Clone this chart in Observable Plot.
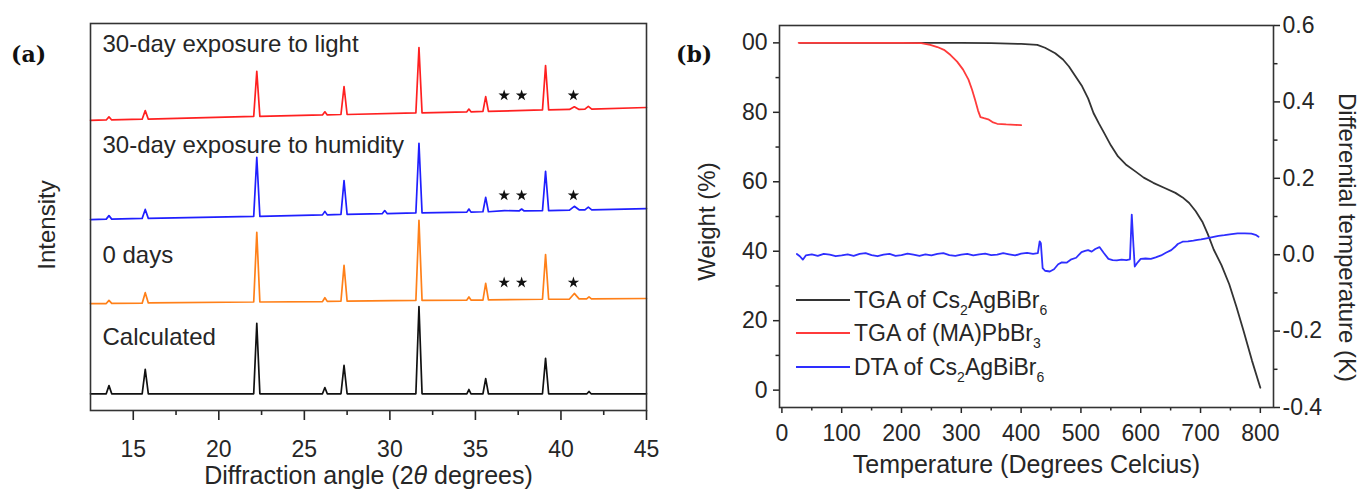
<!DOCTYPE html>
<html><head><meta charset="utf-8">
<script src="https://cdn.jsdelivr.net/npm/d3@7"></script>
<script src="https://cdn.jsdelivr.net/npm/@observablehq/plot@0.6"></script>
<style>
body{margin:0;background:#fff}
#wrap{position:relative;width:1363px;height:496px;overflow:hidden;background:#fff}
#wrap svg{position:absolute;top:0;overflow:visible}
</style>
</head><body><div id="wrap"></div>
<script>
// ---------- Panel (a): XRD patterns (angle, stacked intensity a.u.) ----------
const calcPattern = [[12.5,4.8],[13.42,4.8],[13.58,6.9],[13.74,4.8],[15.52,4.8],[15.7,11.1],[15.88,4.8],[22.04,4.8],[22.22,22.9],[22.4,4.8],[26.06,4.8],[26.2,6.4],[26.34,4.8],[27.14,4.8],[27.32,12.1],[27.5,4.8],[31.52,4.8],[31.7,27.2],[31.88,4.8],[34.5,4.8],[34.62,5.9],[34.74,4.8],[35.44,4.8],[35.6,8.7],[35.76,4.8],[38.92,4.8],[39.1,13.9],[39.28,4.8],[41.52,4.8],[41.64,5.4],[41.76,4.8],[45,4.8]];
const day0Pattern = [[12.5,28.0],[13.42,28.0],[13.58,28.8],[13.74,28.05],[15.52,28.1],[15.7,30.8],[15.88,28.15],[22.04,28.4],[22.22,46.3],[22.4,28.4],[26.06,28.5],[26.2,29.5],[26.34,28.55],[27.14,28.6],[27.32,37.8],[27.5,28.6],[31.52,28.8],[31.7,49.4],[31.88,28.8],[34.5,28.9],[34.62,29.7],[34.74,28.9],[35.44,28.9],[35.6,33.2],[35.76,28.95],[38.92,29.1],[39.1,40.6],[39.28,29.1],[40.5,29.15],[40.78,30.6],[41.06,29.2],[41.5,29.2],[41.64,29.7],[41.78,29.2],[45,29.3]];
const humidityPattern = [[12.5,49.6],[13.42,49.7],[13.58,50.6],[13.74,49.7],[15.52,49.9],[15.7,52.2],[15.88,49.9],[22.04,50.4],[22.22,65.6],[22.4,50.4],[26.06,50.8],[26.2,51.7],[26.34,50.8],[27.14,50.9],[27.32,59.6],[27.5,50.9],[29.55,51.1],[29.7,51.9],[29.85,51.1],[31.52,51.3],[31.7,69.2],[31.88,51.3],[34.5,51.5],[34.62,52.3],[34.74,51.5],[35.44,51.6],[35.6,55.3],[35.76,51.6],[36.7,51.9],[37.55,51.8],[37.7,52.3],[37.85,51.8],[38.92,51.9],[39.1,62.0],[39.28,51.9],[40.5,52.0],[40.78,53.0],[41.06,52.1],[41.4,52.1],[41.6,52.8],[41.8,52.1],[45,52.4]];
const lightPattern = [[12.5,75.1],[13.42,75.2],[13.58,76.0],[13.74,75.2],[15.52,75.4],[15.7,77.6],[15.88,75.4],[22.04,76.1],[22.22,87.7],[22.4,76.1],[26.06,76.5],[26.2,77.3],[26.34,76.5],[27.14,76.6],[27.32,83.8],[27.5,76.6],[31.52,77.0],[31.7,93.8],[31.88,77.0],[34.5,77.3],[34.62,78.0],[34.74,77.3],[35.44,77.4],[35.6,81.2],[35.76,77.4],[38.92,77.8],[39.1,89.2],[39.28,77.8],[40.5,77.9],[40.78,78.6],[41.06,77.9],[41.4,78.0],[41.6,78.7],[41.8,78.0],[45,78.4]];
const patternNames = ["30-day exposure to light","30-day exposure to humidity","0 days","Calculated"];
const patternLabelY = [94.7, 68.8, 40.4, 19.2];
const patternLabelX = 13.2;
const starAngles = [36.68, 37.7, 40.73];
const starLevels = [81.5, 55.8, 33.4];
const xMajorA = [15,20,25,30,35,40,45];
const xMinorA = [17.5,22.5,27.5,32.5,37.5,42.5];

// ---------- Panel (b): TGA / DTA ----------
const tgaCs = [[30,100],[100,100],[200,100],[300,100],[350,99.9],[400,99.7],[427,99.4],[440,98.6],[457,97.0],[470,95.2],[480,93.2],[490,90.6],[502,87.5],[512,84],[521,79.8],[530,76.8],[539,74.0],[550,70.5],[562,67.3],[575,65],[591,63.0],[605,61.2],[621,59.7],[640,58.2],[658,56.8],[670,55.5],[681,53.9],[692,51.5],[703,48.5],[712,45],[722,40.5],[735,36],[748,30.5],[760,24],[772,17],[786,8.5],[800,0.7]];
const tgaMA = [[28,100],[100,100],[200,100],[233,99.9],[248,99.4],[260,98.8],[271,98.0],[282,96.5],[293,94.6],[303,92.3],[312,89.4],[318,86.5],[323,83.6],[328,80.5],[332,78.6],[338,78.3],[345,78.0],[352,77.2],[360,76.7],[375,76.5],[390,76.4],[400,76.3]];
const dtaCs = [[25,0.002],[30,-0.004],[35,-0.013],[40,-0.002],[50,0.001],[60,-0.003],[70,0.002],[80,0.000],[90,-0.004],[100,-0.002],[110,0.001],[120,-0.003],[130,0.002],[140,0.004],[150,-0.001],[160,-0.004],[170,0.000],[180,0.002],[190,-0.003],[200,-0.001],[210,0.003],[220,0.000],[230,-0.003],[240,0.001],[250,-0.002],[260,0.002],[270,0.004],[280,-0.001],[290,-0.003],[300,0.000],[310,0.002],[320,-0.002],[330,0.001],[340,0.003],[350,-0.001],[360,0.000],[370,0.004],[380,0.001],[390,-0.002],[400,0.003],[410,0.005],[420,0.002],[428,0.004],[431,0.035],[433,0.03],[436,-0.035],[440,-0.042],[448,-0.044],[455,-0.038],[462,-0.025],[468,-0.02],[476,-0.021],[484,-0.012],[492,-0.008],[501,0.007],[507,0.01],[512,0.012],[518,0.008],[524,0.015],[531,0.02],[538,0.005],[546,-0.011],[553,-0.014],[560,-0.015],[568,-0.013],[576,-0.014],[582,-0.012],[585,0.105],[588,0.02],[590,-0.031],[595,-0.02],[600,-0.011],[608,-0.01],[617,-0.011],[625,-0.007],[634,-0.002],[642,0.005],[651,0.012],[657,0.02],[662,0.028],[670,0.034],[679,0.035],[688,0.037],[695,0.039],[701,0.04],[710,0.043],[720,0.046],[730,0.049],[740,0.051],[752,0.054],[762,0.056],[774,0.056],[785,0.055],[792,0.052],[797,0.047]];
const xMajorB = [0,100,200,300,400,500,600,700,800];
const xMinorB = [50,150,250,350,450,550,650,750];
const yMajorB = [0,20,40,60,80,100];
const yMinorB = [10,30,50,70,90];
const dtaMajor = [-0.4,-0.2,0.0,0.2,0.4,0.6];
const dtaMinor = [-0.3,-0.1,0.1,0.3,0.5];
const weightDomain = [-5, 105];
const dtaDomain = [-0.4, 0.6];
const legendItems = [
  {parts:["TGA of Cs","2","AgBiBr","6"], color:"#333"},
  {parts:["TGA of (MA)PbBr","3"], color:"#ff3b3b"},
  {parts:["DTA of Cs","2","AgBiBr","6"], color:"#2e2eff"}
];

const FONT = "'Liberation Sans', Arial, Helvetica, sans-serif";
const INK = "#262626";
const wrap = document.getElementById("wrap");

// ---------- Build panel (a) ----------
const labelsA = patternNames.map((t,i)=>({x: patternLabelX, y: patternLabelY[i], text: t}));
const starsA = [];
starLevels.forEach(l => starAngles.forEach(a => starsA.push({x:a, y:l})));
const lineOpts = (c) => ({x: d=>d[0], y: d=>d[1], stroke: c, strokeWidth: 1.7});

const chartA = Plot.plot({
  width: 660, height: 496,
  marginLeft: 90, marginRight: 14, marginTop: 23, marginBottom: 86,
  x: {domain: [12.5, 45]},
  y: {domain: [0.5, 100], axis: null},
  style: {fontFamily: FONT, color: INK, background: "transparent", overflow: "visible"},
  marks: [
    Plot.line(calcPattern, lineOpts("#111")),
    Plot.line(day0Pattern, lineOpts("#ff8019")),
    Plot.line(humidityPattern, lineOpts("#1f1fff")),
    Plot.line(lightPattern, lineOpts("#ff2020")),
    Plot.dot(starsA, {x:"x", y:"y", symbol:"star", r:3.6, fill:"#111", stroke:"none"}),
    Plot.text(labelsA, {x:"x", y:"y", text:"text", textAnchor:"start", fontSize:24, fill:INK}),
    Plot.axisX({ticks: xMajorA, tickSize: 10, tickPadding: 20, fontSize: 23, strokeWidth: 1.6, label: null}),
    Plot.axisX({ticks: xMinorA, tickSize: 5, tickFormat: () => "", strokeWidth: 1.6, label: null}),
    Plot.text(["Diffraction angle (2θ degrees)"], {text: d=>d, frameAnchor: "bottom", dy: 73, fontSize: 25, fill: INK}),
    Plot.text(["Intensity"], {text: d=>d, frameAnchor: "left", textAnchor: "middle", dx: -43, dy: 8, rotate: -90, fontSize: 24, fill: INK}),
    Plot.frame({stroke: "#333", strokeWidth: 1.6})
  ]
});
chartA.style.left = "0px";
wrap.appendChild(chartA);

// italic theta
d3.select(chartA).selectAll("text").each(function(){
  if (this.textContent === "Diffraction angle (2θ degrees)") {
    const t = d3.select(this); t.text(null);
    t.append("tspan").text("Diffraction angle (2");
    t.append("tspan").attr("font-style","italic").text("θ");
    t.append("tspan").text(" degrees)");
  }
});
d3.select(chartA).append("text").attr("x", 11).attr("y", 56).attr("dominant-baseline","middle")
  .attr("text-anchor","start")
  .attr("font-family","'DejaVu Serif', serif").attr("font-weight","bold").attr("font-size",22)
  .attr("fill","#111").text("(a)");

// ---------- Build panel (b) ----------
const toW = d3.scaleLinear().domain(dtaDomain).range(weightDomain);
const dtaRows = dtaCs.map(([t,v]) => [t, toW(v)]);
const dtaLabel = w => { let v = toW.invert(w); if (Math.abs(v) < 1e-9) v = 0; return (v < 0 ? "-" : "") + Math.abs(v).toFixed(1); };

const chartB = Plot.plot({
  width: 703, height: 496,
  marginLeft: 119, marginRight: 90, marginTop: 25, marginBottom: 89,
  x: {domain: [-4, 822]},
  y: {domain: weightDomain},
  style: {fontFamily: FONT, color: INK, background: "transparent", overflow: "visible"},
  marks: [
    Plot.line(tgaCs, {x:d=>d[0], y:d=>d[1], stroke:"#333", strokeWidth:1.8}),
    Plot.line(dtaRows, {x:d=>d[0], y:d=>d[1], stroke:"#2e2eff", strokeWidth:1.8}),
    Plot.line(tgaMA, {x:d=>d[0], y:d=>d[1], stroke:"#ff3b3b", strokeWidth:1.8}),
    Plot.axisX({ticks: xMajorB, tickSize: 6, tickPadding: 11, fontSize: 23, strokeWidth: 1.5, label: null}),
    Plot.axisX({ticks: xMinorB, tickSize: 3.5, tickFormat: () => "", strokeWidth: 1.5, label: null}),
    Plot.axisY({ticks: yMajorB, tickSize: 6, tickPadding: 6, fontSize: 23, strokeWidth: 1.5, label: null,
      tickFormat: d => d === 100 ? "00" : String(d)}),
    Plot.axisY({ticks: yMinorB, tickSize: 3.5, tickFormat: () => "", strokeWidth: 1.5, label: null}),
    Plot.axisY({anchor: "right", ticks: dtaMajor.map(toW), tickSize: 6, tickPadding: 3, fontSize: 23, strokeWidth: 1.5, label: null, tickFormat: dtaLabel}),
    Plot.axisY({anchor: "right", ticks: dtaMinor.map(toW), tickSize: 3.5, tickFormat: () => "", strokeWidth: 1.5, label: null}),
    Plot.text(["Temperature (Degrees Celcius)"], {text: d=>d, frameAnchor: "bottom", dy: 65, fontSize: 25, fill: INK}),
    Plot.text(["Weight (%)"], {text: d=>d, frameAnchor: "left", textAnchor: "middle", dx: -72, dy: 5, rotate: -90, fontSize: 24, fill: INK}),
    Plot.text(["Differential temperature (K)"], {text: d=>d, frameAnchor: "right", textAnchor: "middle", dx: 73, dy: 21, rotate: 90, fontSize: 24, fill: INK}),
    Plot.frame({stroke: "#333", strokeWidth: 1.6})
  ]
});
chartB.style.left = "660px";
wrap.appendChild(chartB);

const sB = d3.select(chartB);
sB.append("text").attr("x", 16).attr("y", 56).attr("dominant-baseline","middle")
  .attr("text-anchor","start")
  .attr("font-family","'DejaVu Serif', serif").attr("font-weight","bold").attr("font-size",22)
  .attr("fill","#111").text("(b)");
const legRowY = [300, 333, 367];
const lg = sB.append("g").attr("font-family", FONT).attr("fill", INK).attr("text-anchor","start");
legendItems.forEach((it, i) => {
  const y = legRowY[i];
  lg.append("line").attr("x1",136).attr("x2",190).attr("y1",y).attr("y2",y)
    .attr("stroke",it.color).attr("stroke-width",2);
  const t = lg.append("text").attr("x",194).attr("y",y+8).attr("font-size",23).attr("text-anchor","start");
  it.parts.forEach((p, j) => {
    const sub = j % 2 === 1;
    const ts = t.append("tspan").text(p);
    if (sub) ts.attr("font-size",14).attr("dy",7);
    else if (j > 0) ts.attr("dy",-7);
  });
});
</script></body></html>
